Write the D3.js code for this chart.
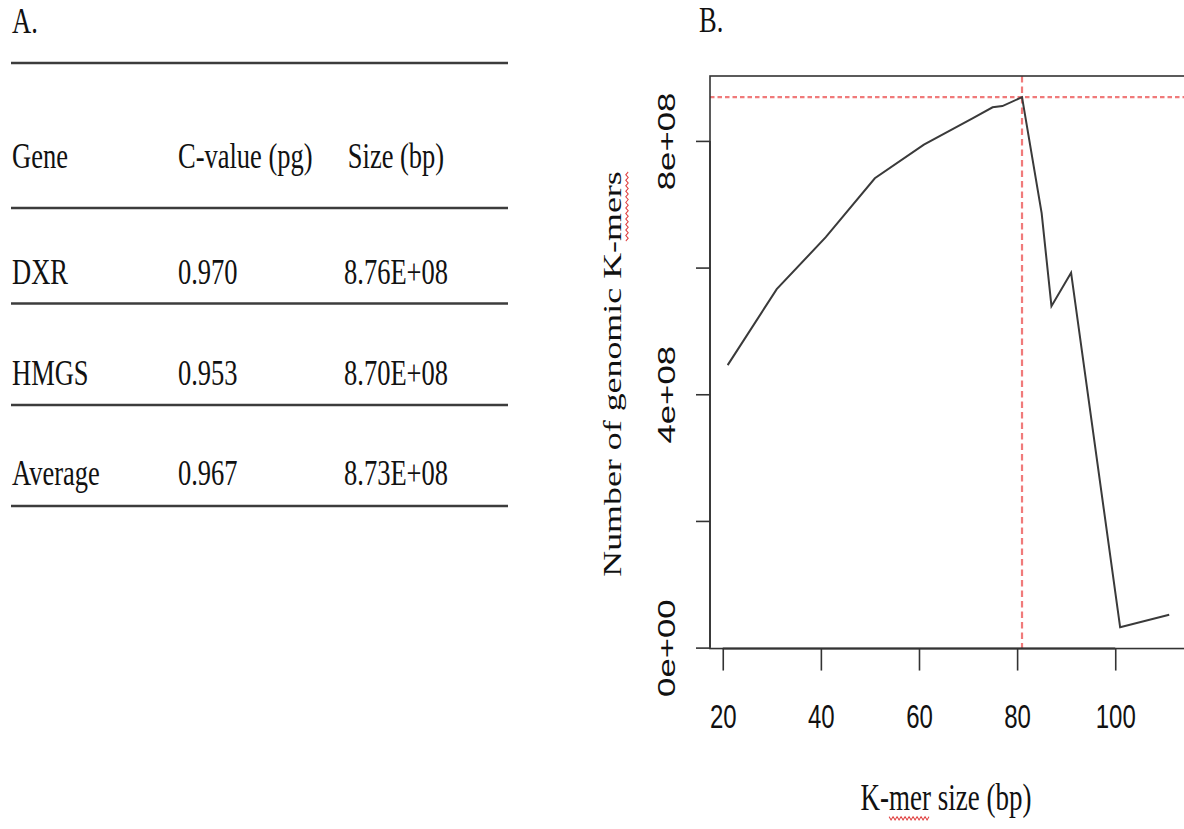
<!DOCTYPE html>
<html>
<head>
<meta charset="utf-8">
<script src="https://cdn.jsdelivr.net/npm/d3@7"></script>
<style>
  body { margin: 0; background: #fff; }
  svg { display: block; }
</style>
</head>
<body>
<svg id="chart"></svg>
<script>
// Panel A: genome size table
const tableHeader = ['Gene', 'C-value (pg)', 'Size (bp)'];
const genes = ['DXR', 'HMGS', 'Average'];
const cValues = ['0.970', '0.953', '0.967'];
const genomeSizes = ['8.76E+08', '8.70E+08', '8.73E+08'];

// Panel B: KmerGenie style curve
const kmerSizes = [21, 31, 41, 51, 61, 71, 75, 77, 81, 85, 87, 91, 101, 111];
const kmerCounts = [4.46e8, 5.66e8, 6.48e8, 7.41e8, 7.94e8, 8.36e8, 8.53e8, 8.55e8, 8.69e8, 6.86e8, 5.39e8, 5.92e8, 0.32e8, 0.52e8];
const bestK = 81;
const xTicks = [20, 40, 60, 80, 100];
const yTicks = [0, 2e8, 4e8, 6e8, 8e8];
const yTickLabels = ['0e+00', '', '4e+08', '', '8e+08'];

const width = 1184, height = 829;
const SY = 1.38;  // the figure is stretched vertically
const serif = '"Liberation Serif", "Times New Roman", serif';
const sans = '"Liberation Sans", Arial, Helvetica, sans-serif';

const svg = d3.select('#chart')
    .attr('width', width)
    .attr('height', height);

// small helper: text with the vertical stretch
function stretchedText(g, str, x, y, opts = {}) {
    return g.append('text')
        .attr('transform', `translate(${x},${y}) scale(1,${SY})`)
        .attr('text-anchor', opts.anchor || 'start')
        .style('font-family', opts.font || serif)
        .style('font-size', (opts.size || 26.5) + 'px')
        .attr('fill', '#111')
        .text(str);
}

// ---------- table ----------
const gTable = svg.append('g').attr('class', 'table');
stretchedText(gTable, 'A.', 12, 33);

const ruleY = [63, 208, 303.5, 405, 506];
gTable.selectAll('.rule')
    .data(ruleY)
    .enter().append('line')
    .attr('class', 'rule')
    .attr('x1', 11).attr('x2', 508)
    .attr('y1', d => d).attr('y2', d => d)
    .attr('stroke', '#3c3c3c')
    .attr('stroke-width', 2.5);

const colX = [12, 178, 396];
const colAnchor = ['start', 'start', 'middle'];
const rowY = [168, 284, 385, 485];

tableHeader.forEach((h, i) => stretchedText(gTable, h, colX[i], rowY[0], { anchor: colAnchor[i] }));
const rows = genes.map((g, i) => [g, cValues[i], genomeSizes[i]]);
rows.forEach((r, ri) => {
    r.forEach((cell, ci) => stretchedText(gTable, cell, colX[ci], rowY[ri + 1], { anchor: colAnchor[ci] }));
});

// ---------- plot ----------
const plot = { left: 710, top: 76 };
const xExt = d3.extent(kmerSizes), yExt = d3.extent(kmerCounts);
const xPad = (xExt[1] - xExt[0]) * 0.04, yPad = (yExt[1] - yExt[0]) * 0.04;
const pxPerK = 4.906;
const pxPerCount = 506.7 / 8e8;

const x = d3.scaleLinear()
    .domain([xExt[0] - xPad, xExt[1] + xPad])
    .range([plot.left, plot.left + (xExt[1] - xExt[0] + 2 * xPad) * pxPerK]);
const y = d3.scaleLinear()
    .domain([yExt[0] - yPad, yExt[1] + yPad])
    .range([plot.top + (yExt[1] - yExt[0] + 2 * yPad) * pxPerCount, plot.top]);

const [x0, x1] = x.range();
const [yb, yt] = y.range();

const gPlot = svg.append('g').attr('class', 'plot');

// red reference lines
gPlot.append('line')
    .attr('x1', x0).attr('x2', x1)
    .attr('y1', y(d3.max(kmerCounts))).attr('y2', y(d3.max(kmerCounts)))
    .attr('stroke', '#f07a7a').attr('stroke-width', 2.2)
    .attr('stroke-dasharray', '4.5,3');
gPlot.append('line')
    .attr('x1', x(bestK)).attr('x2', x(bestK))
    .attr('y1', yt).attr('y2', yb)
    .attr('stroke', '#f07a7a').attr('stroke-width', 2.2)
    .attr('stroke-dasharray', '6.5,4');

// curve
const line = d3.line()
    .x((d, i) => x(kmerSizes[i]))
    .y(d => y(d));
gPlot.append('path')
    .datum(kmerCounts)
    .attr('d', line)
    .attr('fill', 'none')
    .attr('stroke', '#3a3a3a')
    .attr('stroke-width', 2);

// box
gPlot.append('rect')
    .attr('x', x0).attr('y', yt)
    .attr('width', x1 - x0).attr('height', yb - yt)
    .attr('fill', 'none')
    .attr('stroke', '#333')
    .attr('stroke-width', 1.6);

// x axis
const xAxis = gPlot.append('g')
    .attr('transform', `translate(0,${yb})`)
    .call(d3.axisBottom(x).tickValues(xTicks).tickSize(22).tickFormat(''));
xAxis.select('.domain').remove();
xAxis.selectAll('.tick line').attr('stroke', '#333').attr('stroke-width', 1.6);
xAxis.append('line')
    .attr('x1', x(xTicks[0])).attr('x2', x(xTicks[xTicks.length - 1]))
    .attr('stroke', '#333').attr('stroke-width', 2);
xAxis.selectAll('.tick').each(function (d) {
    stretchedText(d3.select(this), d, 0, 79.5, { anchor: 'middle', font: sans, size: 24 });
});

// y axis
const yAxis = gPlot.append('g')
    .attr('transform', `translate(${x0},0)`)
    .call(d3.axisLeft(y).tickValues(yTicks).tickSize(14).tickFormat(''));
yAxis.select('.domain').remove();
yAxis.selectAll('.tick line').attr('stroke', '#333').attr('stroke-width', 1.6);
yAxis.append('line')
    .attr('y1', y(yTicks[0])).attr('y2', y(yTicks[yTicks.length - 1]))
    .attr('stroke', '#333').attr('stroke-width', 1.6);
yAxis.selectAll('.tick').each(function (d, i) {
    if (!yTickLabels[i]) return;
    d3.select(this).append('text')
        .attr('transform', `translate(-35,0) rotate(-90) scale(${SY * 1.05},1)`)
        .attr('text-anchor', 'middle')
        .style('font-family', sans)
        .style('font-size', '24px')
        .attr('fill', '#111')
        .text(yTickLabels[i]);
});

// spell-check squiggle under part of a text element (artifact in the source figure)
function squiggle(g, textNode, from, count, dy) {
    const sx = textNode.getStartPositionOfChar(from).x;
    const len = textNode.getSubStringLength(from, count);
    const pts = d3.range(0, Math.floor(len / 2) + 1).map(i => [sx + i * 2, dy + (i % 2 ? 1.2 : -1.2)]);
    g.append('path')
        .attr('d', d3.line()(pts))
        .attr('fill', 'none')
        .attr('stroke', '#e04040')
        .attr('stroke-width', 0.9);
}

// axis titles
const xTitleG = svg.append('g')
    .attr('transform', `translate(946,810) scale(1,${SY})`);
const xTitle = xTitleG.append('text')
    .attr('text-anchor', 'middle')
    .style('font-family', serif)
    .style('font-size', '27px')
    .attr('fill', '#111')
    .text('K-mer size (bp)');
squiggle(xTitleG, xTitle.node(), 2, 3, 6);

const yTitleG = svg.append('g')
    .attr('transform', `translate(621,374) rotate(-90) scale(${SY},1)`);
const yTitle = yTitleG.append('text')
    .attr('text-anchor', 'middle')
    .style('font-family', serif)
    .style('font-size', '26px')
    .attr('fill', '#111')
    .text('Number of genomic K-mers');
squiggle(yTitleG, yTitle.node(), 20, 4, 6);

stretchedText(svg, 'B.', 699, 32);
</script>
</body>
</html>
